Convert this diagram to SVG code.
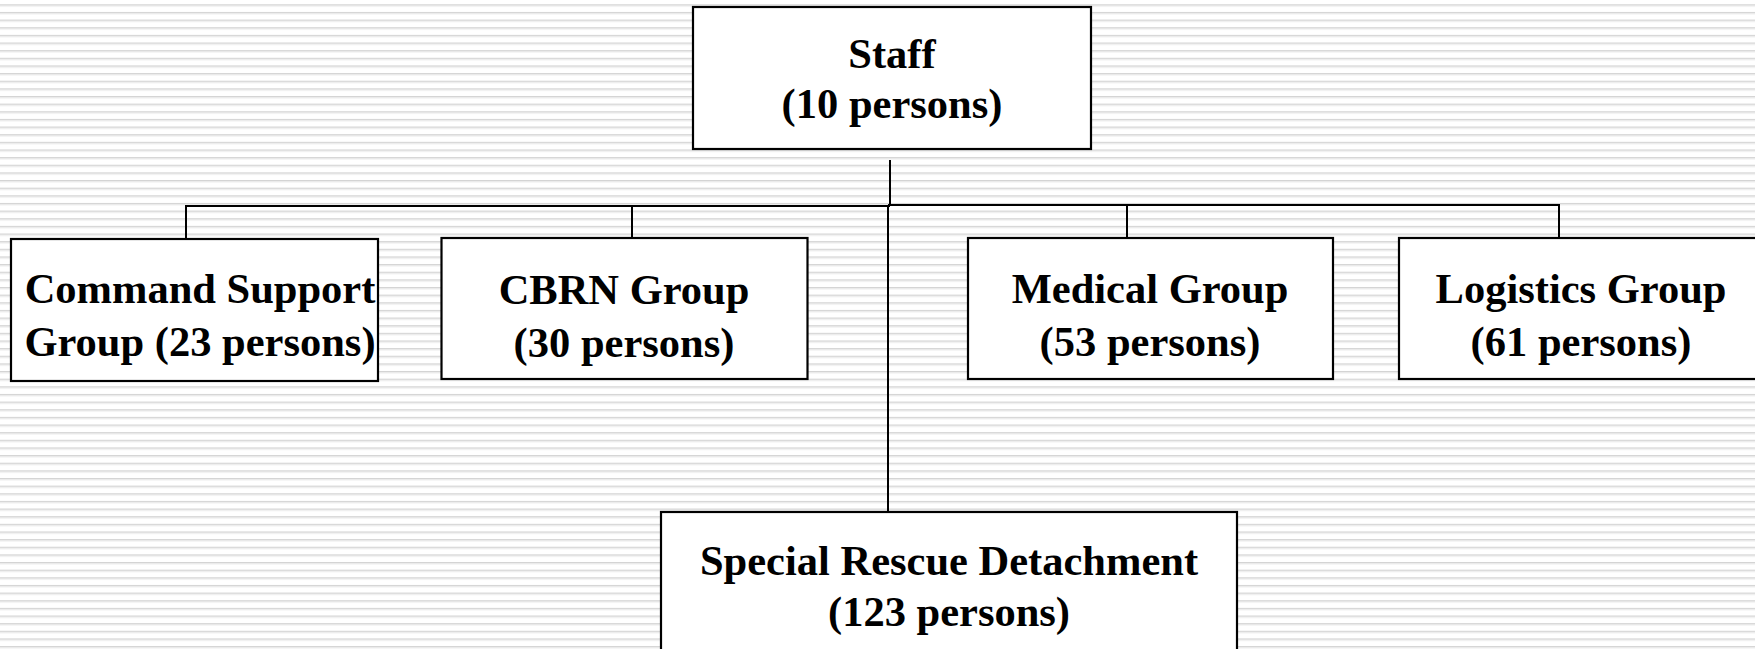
<svg xmlns="http://www.w3.org/2000/svg" width="1755" height="649" viewBox="0 0 1755 649">
<defs>
<pattern id="stripes" patternUnits="userSpaceOnUse" x="0" y="4.3" width="40" height="7.64">
<rect x="0" y="0" width="40" height="7.64" fill="#ffffff"/>
<rect x="0" y="0" width="40" height="1.3" fill="#d4d4d4"/>
<rect x="0" y="1.3" width="40" height="1" fill="#e8e8e8"/>
</pattern>
</defs>
<style>
.box{fill:#ffffff;stroke:#000000;stroke-width:2.2}
.lbl{font-family:"Liberation Serif","Times New Roman",serif;font-weight:bold;font-size:42.5px;fill:#000000;text-anchor:middle}
.conn line{stroke:#000000;stroke-width:2}
</style>
<rect x="0" y="0" width="1755" height="649" fill="url(#stripes)"/>
<g id="connectors" class="conn">
<line x1="890" y1="160" x2="890" y2="206"/>
<line x1="185" y1="206" x2="890" y2="206"/>
<line x1="888" y1="205" x2="1560" y2="205"/>
<line x1="186" y1="205" x2="186" y2="239"/>
<line x1="632" y1="206" x2="632" y2="238"/>
<line x1="1127" y1="205" x2="1127" y2="238"/>
<line x1="1559" y1="205" x2="1559" y2="238"/>
<line x1="888" y1="206" x2="888" y2="512"/>
</g>
<g id="staff">
<rect class="box" x="693" y="7" width="398" height="142"/>
<text class="lbl" x="892" y="68">Staff</text>
<text class="lbl" x="892" y="118">(10 persons)</text>
</g>
<g id="command-support">
<rect class="box" x="11" y="239" width="367" height="142"/>
<text class="lbl" x="200" y="303">Command Support</text>
<text class="lbl" x="200" y="356">Group (23 persons)</text>
</g>
<g id="cbrn">
<rect class="box" x="441.5" y="238" width="366" height="141"/>
<text class="lbl" x="624" y="304">CBRN Group</text>
<text class="lbl" x="624" y="357">(30 persons)</text>
</g>
<g id="medical">
<rect class="box" x="968" y="238" width="365" height="141"/>
<text class="lbl" x="1150" y="303">Medical Group</text>
<text class="lbl" x="1150" y="356">(53 persons)</text>
</g>
<g id="logistics">
<rect class="box" x="1399" y="238" width="380" height="141"/>
<text class="lbl" x="1581" y="303">Logistics Group</text>
<text class="lbl" x="1581" y="356">(61 persons)</text>
</g>
<g id="special-rescue">
<rect class="box" x="661" y="512" width="576" height="150"/>
<text class="lbl" x="949" y="575">Special Rescue Detachment</text>
<text class="lbl" x="949" y="626">(123 persons)</text>
</g>
</svg>
